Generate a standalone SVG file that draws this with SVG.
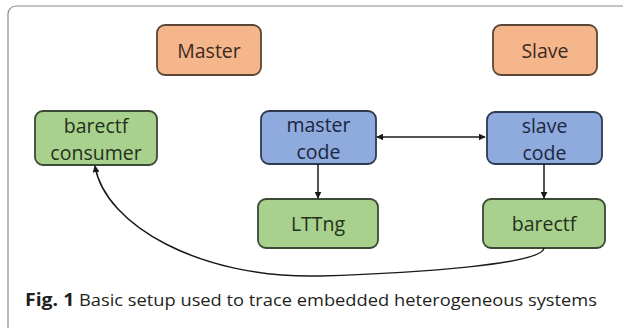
<svg xmlns="http://www.w3.org/2000/svg" width="623" height="328" viewBox="0 0 623 328">
<defs>
<marker id="ah" viewBox="0 0 10 10" refX="9" refY="5" markerWidth="7" markerHeight="7" orient="auto-start-reverse" markerUnits="userSpaceOnUse">
<path d="M0,0 L10,5 L0,10 z" fill="#1a1a1a"/>
</marker>
<style>
.orange{fill:#F5B68C;stroke:#5B4636;stroke-width:1.8}
.blue{fill:#8FAADC;stroke:#2E3A4F;stroke-width:1.8}
.green{fill:#A9D18E;stroke:#3B4A33;stroke-width:1.8}
.t{font-family:"Open Sans","Liberation Sans",sans-serif;font-size:19.5px;text-anchor:middle}
.to{fill:#3b2a1e}
.tb{fill:#1c2640}
.tg{fill:#22301c}
.conn{fill:none;stroke:#1a1a1a;stroke-width:1.5}
.cap{font-family:"Open Sans","Liberation Sans",sans-serif;font-size:16px;fill:#231f20}
</style>
</defs>
<rect x="0" y="0" width="623" height="328" fill="#ffffff"/>
<rect x="8" y="6" width="640" height="330" rx="8" fill="none" stroke="#8a8a8a" stroke-width="1.2"/>

<g id="master">
<rect class="orange" x="157" y="25" width="104" height="50" rx="8"/>
<text class="t to" x="209" y="58" font-size="22">Master</text>
</g>
<g id="slave">
<rect class="orange" x="493" y="25" width="104" height="50" rx="8"/>
<text class="t to" x="545" y="58" font-size="22">Slave</text>
</g>
<g id="barectf-consumer">
<rect class="green" x="35" y="111" width="122" height="54" rx="8"/>
<text class="t tg" x="96" y="133">barectf</text>
<text class="t tg" x="96" y="160">consumer</text>
</g>
<g id="master-code">
<rect class="blue" x="261" y="111" width="115" height="53" rx="8"/>
<text class="t tb" x="318.5" y="132">master</text>
<text class="t tb" x="318.5" y="159">code</text>
</g>
<g id="slave-code">
<rect class="blue" x="487" y="112" width="115" height="52" rx="8"/>
<text class="t tb" x="544.5" y="133">slave</text>
<text class="t tb" x="544.5" y="160">code</text>
</g>
<g id="lttng">
<rect class="green" x="258" y="199" width="120" height="49" rx="8"/>
<text class="t tg" x="318" y="231" font-size="20">LTTng</text>
</g>
<g id="barectf">
<rect class="green" x="483" y="199" width="122" height="49" rx="8"/>
<text class="t tg" x="544" y="231" font-size="20">barectf</text>
</g>

<g id="connectors">
<line class="conn" x1="377" y1="137" x2="485" y2="137" marker-start="url(#ah)" marker-end="url(#ah)"/>
<line class="conn" x1="318" y1="164" x2="318" y2="198" marker-end="url(#ah)"/>
<line class="conn" x1="544" y1="164" x2="544" y2="198" marker-end="url(#ah)"/>
<path class="conn" d="M544,248 C543,264 420,273 320,276 C200,279 105,225 95,166" marker-end="url(#ah)"/>
</g>

<text class="cap" x="25" y="306" textLength="572" lengthAdjust="spacingAndGlyphs"><tspan font-weight="bold" font-size="17">Fig. 1</tspan> Basic setup used to trace embedded heterogeneous systems</text>
</svg>
